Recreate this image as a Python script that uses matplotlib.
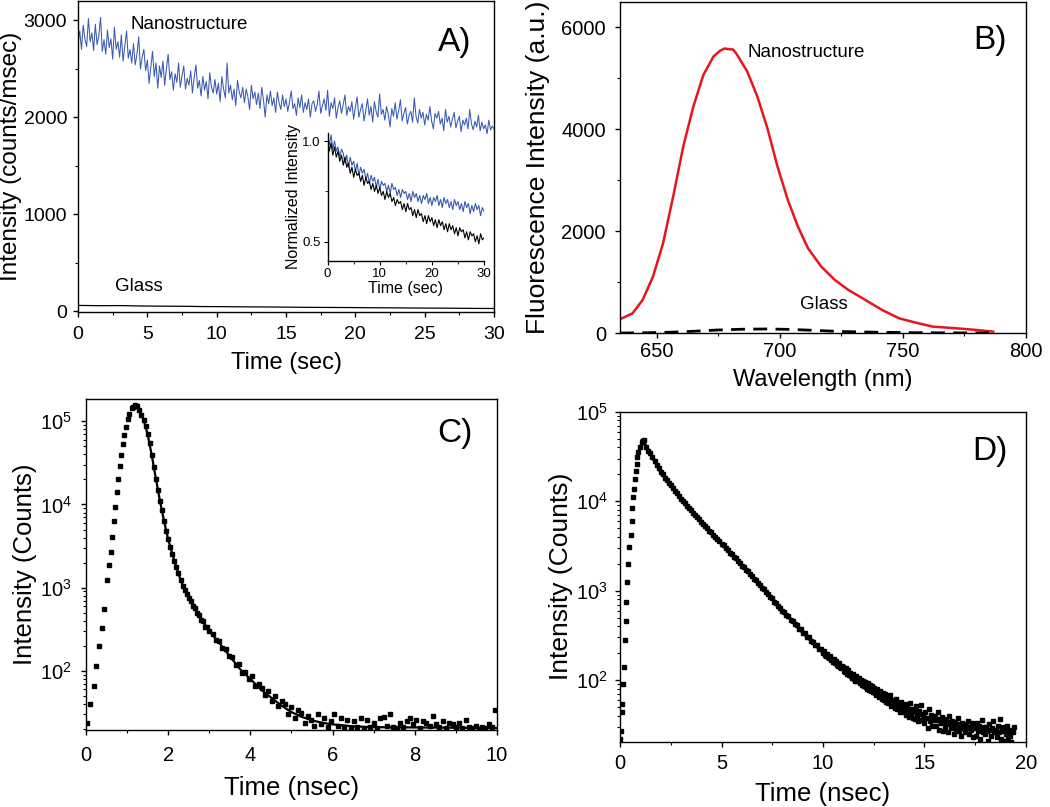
import numpy as np
import matplotlib
matplotlib.use("Agg")
import matplotlib.pyplot as plt
from matplotlib.ticker import MultipleLocator, LogLocator, NullFormatter

plt.rcParams["font.family"] = ["Liberation Sans", "DejaVu Sans"]
plt.rcParams["axes.linewidth"] = 1.0
plt.rcParams["xtick.direction"] = "out"
plt.rcParams["ytick.direction"] = "out"

BLUE, RED, INK = "#3a5ab2", "#e8161c", "#000000"

# ---------------- A) intensity traces (8 bins per second, 0-30 s) ----------------
a_nano = [2760, 2890, 2700, 2950, 2810, 2730, 3020, 2780,
          2870, 2690, 2960, 2750, 2840, 3030, 2680, 2800,
          2650, 2900, 2720, 2810, 2600, 2930, 2700, 2780,
          2620, 2850, 2580, 2740, 2890, 2610, 2700, 2560,
          2760, 2540, 2650, 2830, 2500, 2620, 2700, 2480,
          2590, 2350, 2510, 2680, 2420, 2560, 2300, 2530,
          2410, 2580, 2330, 2500, 2650, 2390, 2470, 2280,
          2450, 2360, 2560, 2310, 2430, 2530, 2290, 2400,
          2330, 2480, 2250, 2410, 2540, 2300, 2380, 2220,
          2420, 2280, 2370, 2190, 2460, 2310, 2250, 2390,
          2240, 2350, 2160, 2420, 2290, 2200, 2560, 2250,
          2330, 2180, 2290, 2120, 2380, 2260, 2200, 2310,
          2150, 2290, 2210, 2080, 2330, 2190, 2260, 2130,
          2250, 2090, 2310, 2180, 2000, 2230, 2140, 2270,
          2120, 2200, 2050, 2260, 2150, 2080, 2230, 2110,
          2190, 2060, 2160, 2270, 2090, 2140, 2020, 2200,
          2100, 2230, 2050, 2150, 2080, 2190, 2000, 2140,
          2170, 2060, 2130, 2270, 2040, 2120, 2190, 2070,
          2280, 2010, 2150, 2090, 2200, 1990, 2100, 2170,
          2040, 2130, 2230, 2020, 2110, 2060, 2160, 1980,
          2100, 2210, 2000, 2080, 2140, 1960, 2070, 2190,
          2020, 2110, 1950, 2160, 2060, 2000, 2240, 2030,
          2080, 1970, 2110, 2030, 1900, 2090, 2010, 2150,
          1980, 2070, 2180, 1960, 2040, 2100, 1930, 2020,
          2060, 1950, 2200, 2010, 1940, 2080, 1990, 2050,
          1920, 2030, 1970, 2110, 1960, 1880, 2040, 1990,
          2060, 1930, 1990, 1860, 2080, 1950, 2010, 1900,
          1980, 2050, 1890, 1960, 2010, 1850, 1970, 1920,
          1990, 1880, 2080, 1930, 1870, 1960, 1900, 2020,
          1860, 1950, 1880, 1920, 1830, 1970, 1870, 1910,
          1880]
a_glass = [58, 55, 56, 52, 50, 49, 46, 45, 43, 42, 40, 38, 37, 36, 34, 33, 31, 30, 29, 27, 26]

# inset: normalized traces (3 bins per second)
ins_blue = [1.02, 0.98, 1.03, 0.96, 1.00, 0.95, 0.97, 0.92, 0.96, 0.94, 0.89, 0.93,
            0.87, 0.92, 0.88, 0.90, 0.85, 0.89, 0.83, 0.87, 0.84, 0.86, 0.81, 0.84,
            0.79, 0.83, 0.80, 0.82, 0.77, 0.81, 0.76, 0.80, 0.78, 0.79, 0.75, 0.78,
            0.74, 0.79, 0.76, 0.77, 0.73, 0.76, 0.72, 0.76, 0.74, 0.75, 0.71, 0.74,
            0.70, 0.75, 0.72, 0.74, 0.70, 0.73, 0.69, 0.73, 0.71, 0.74, 0.69, 0.72,
            0.68, 0.72, 0.70, 0.73, 0.68, 0.71, 0.67, 0.72, 0.69, 0.71, 0.67, 0.70,
            0.66, 0.71, 0.68, 0.70, 0.66, 0.69, 0.65, 0.70, 0.67, 0.69, 0.64, 0.68,
            0.65, 0.69, 0.66, 0.68, 0.63, 0.67, 0.65]
ins_black = [1.01, 0.95, 0.99, 0.93, 0.97, 0.92, 0.95, 0.90, 0.93, 0.88, 0.92, 0.87,
             0.89, 0.84, 0.87, 0.82, 0.86, 0.83, 0.84, 0.80, 0.83, 0.78, 0.82, 0.79,
             0.80, 0.76, 0.79, 0.75, 0.78, 0.74, 0.77, 0.73, 0.75, 0.71, 0.75, 0.72,
             0.74, 0.70, 0.72, 0.68, 0.71, 0.69, 0.70, 0.66, 0.69, 0.65, 0.69, 0.66,
             0.67, 0.63, 0.66, 0.62, 0.66, 0.63, 0.64, 0.60, 0.63, 0.59, 0.63, 0.60,
             0.62, 0.58, 0.61, 0.57, 0.61, 0.58, 0.60, 0.56, 0.59, 0.55, 0.59, 0.56,
             0.58, 0.54, 0.57, 0.53, 0.57, 0.55, 0.56, 0.52, 0.55, 0.51, 0.55, 0.53,
             0.54, 0.50, 0.53, 0.49, 0.54, 0.51, 0.52]

# ---------------- B) emission spectra ----------------
b_wl = [635, 640.1, 644.2, 648.4, 652.5, 656.6, 660.7, 664.8, 668.9, 673, 675.8, 677.5,
        679.2, 681, 682.6, 686.7, 690.8, 694.9, 699, 703.2, 707.3, 711.4, 716.8, 722.3,
        727.8, 734.7, 741.5, 748.4, 755.2, 762.1, 771.6, 779.9, 786.7]
b_nano = [275, 392, 654, 1111, 1765, 2680, 3660, 4444, 5065, 5425, 5542, 5580,
          5569, 5560, 5458, 5131, 4641, 4020, 3268, 2614, 2092, 1667, 1307, 1046,
          850, 654, 458, 294, 209, 131, 98, 65, 33]
b_glass_wl = [635, 645, 655, 665, 675, 685, 695, 705, 715, 725, 740, 755, 770, 785]
b_glass = [5, 10, 20, 40, 65, 80, 85, 75, 55, 35, 20, 12, 8, 6]

# ---------------- C) decay on glass ----------------
c_rise_t = [0.02, 0.10, 0.19, 0.25, 0.32, 0.38, 0.45, 0.51, 0.56, 0.60, 0.64, 0.67,
            0.71, 0.75, 0.79, 0.83, 0.86, 0.89, 0.93, 0.97, 1.01, 1.05, 1.11]
c_rise = [24, 40, 65, 115, 200, 330, 550, 1250, 1870, 2700, 4070, 6300,
          9300, 14200, 20000, 29000, 39000, 53500, 68000, 85000, 105000, 123000, 143000]
c_head = [150000, 156000, 152000, 137000, 120000, 104000, 88000, 70000, 54000, 39000,
          28500, 20500, 15000, 11000, 8500, 6300, 4800, 3800, 3100, 2550, 2100, 1750,
          1490, 1250, 1060, 940, 850, 760, 690, 610, 570, 495, 470, 410, 395, 340, 335]
c_tail = [305, 280, 238, 226, 190, 184, 150, 146, 118, 121, 95, 98, 79, 86, 66, 70,
          62, 51, 57, 43, 50, 38, 44, 40, 30, 37, 27, 34, 31, 24, 29, 26, 22, 30, 23, 27,
          21, 25, 30, 22, 27, 21, 26, 20.5, 25, 21, 27, 20, 26, 21, 24, 20.5, 27, 28,
          22, 30, 21, 20.5, 24, 21, 25, 27, 23, 26, 20.5, 25, 24, 22, 29, 23, 21, 25,
          20.5, 24, 23, 21, 24, 20.5, 26, 21, 20.5, 22, 20, 21, 20.5, 23, 21, 34]
c_fit_t = [1.22, 1.3, 1.4, 1.5, 1.6, 1.7, 1.8, 1.9, 2.0, 2.1, 2.2, 2.3, 2.4, 2.5, 2.6, 2.8,
           3.0, 3.25, 3.5, 3.75, 4.0, 4.25, 4.5, 4.75, 5.0, 5.25, 5.5, 5.75, 6.0, 6.5, 7.0, 10.0]
c_fit = [156000, 137000, 104000, 70000, 39000, 20500, 11000, 6300, 3800, 2550, 1750, 1250,
         940, 760, 615, 420, 300, 215, 150, 105, 80, 60, 48, 38.5, 32, 28, 25.5, 23.8,
         22.8, 21.6, 21.1, 20.6]

# ---------------- D) decay on nanostructure ----------------
d_rise_t = [0.0, 0.05, 0.08, 0.11, 0.16, 0.21, 0.25, 0.28, 0.31, 0.36, 0.41, 0.44, 0.54,
            0.57, 0.61, 0.66, 0.69, 0.74, 0.79, 0.82, 0.85, 0.90, 0.99, 1.07, 1.15, 1.20]
d_rise = [22, 27, 44, 54, 91, 141, 282, 457, 740, 1250, 2000, 3100, 4150,
          6000, 8300, 11000, 13800, 17800, 21900, 26300, 30800, 35600, 40600, 45600, 47500, 48000]
d_head = [40500, 36800, 34200, 30800, 28300, 25500, 23600, 21300, 19950, 18400, 17350,
          16050, 15100, 13900, 13150, 12200, 11500, 10650, 10100, 9450, 8950, 8380, 7930,
          7420, 7050, 6600, 6260, 5860, 5590, 5240, 5000, 4690, 4470, 4190, 4000, 3750,
          3580, 3350, 3200, 2990, 2860, 2670, 2560, 2380, 2290, 2130, 2050, 1900, 1830,
          1700, 1640, 1520, 1465, 1355, 1310, 1205, 1170, 1075, 1040, 955, 925, 848, 822,
          752, 728, 668, 646, 592, 578, 528, 517, 472, 463, 422, 415, 377, 373, 336, 335,
          302, 300, 271, 270, 245, 246, 221, 222]
d_tail = [199, 210, 190, 184, 196, 181, 175, 186, 168, 174,
          160, 171, 155, 162, 147, 145, 154, 140, 136, 144,
          139, 127, 124, 135, 118, 129, 113, 121, 110, 106,
          116, 103, 99, 112, 97, 106, 92, 101, 89, 98,
          87, 96, 84, 80, 93, 78, 88, 76, 85, 73,
          82, 71, 68, 79, 70, 64, 75, 66, 61, 72,
          60, 70, 57, 66, 55, 63, 68, 52, 60, 53,
          59, 49, 62, 47, 55, 51, 44, 57, 48, 53,
          44, 54, 41, 50, 46, 39, 56, 42, 47, 38,
          46, 37, 51, 40, 35, 45, 42, 53, 36, 41,
          33, 44, 38, 29, 47, 35, 41, 31, 39, 36,
          40, 31, 36, 44, 28, 37, 33, 39, 27, 35,
          30, 37, 34, 26, 40, 32, 29, 35, 31, 25,
          34, 28, 32, 38, 27, 30, 24, 33, 29, 31,
          26, 32, 29, 35, 25, 30, 28, 33, 23, 31,
          29, 24, 33, 27, 31, 22, 28, 36, 26, 30,
          25, 30, 27, 21, 32, 28, 24, 29, 35, 26,
          28, 23, 31, 26, 37, 22, 27, 30, 21, 29,
          25, 31, 22, 28, 24, 20.5, 27, 26, 30]
d_fit_t = [1.1, 1.5, 2, 2.5, 3, 3.5, 4, 4.5, 5, 5.5, 6, 6.5, 7, 7.5, 8, 8.5, 9, 9.5, 10,
           10.5, 11, 11.5, 12, 12.5, 13, 13.5, 14, 14.5, 15, 15.5, 16, 16.5, 17, 17.5, 18,
           18.5, 19, 19.4]
d_fit = [48000, 34000, 21400, 15000, 10700, 7900, 5880, 4450, 3370, 2540, 1920, 1450, 1090,
         810, 600, 455, 345, 265, 205, 166, 135, 110, 92, 77, 65, 55, 48, 43, 39, 35.5, 33,
         31, 29.5, 28.5, 27.5, 26.5, 26, 25.5]


def style(ax, lab, xpad, ypad):
    ax.tick_params(which="major", length=3.6, width=1.0, labelsize=lab)
    ax.tick_params(which="minor", length=2.2, width=0.8)
    ax.tick_params(axis="x", which="major", pad=xpad)
    ax.tick_params(axis="y", which="major", pad=ypad)


fig = plt.figure(figsize=(10.5, 8.07), dpi=100)

# A
axA = fig.add_axes([0.0743, 0.6128, 0.3962, 0.386])
tA = np.linspace(0, 30, len(a_nano))
axA.plot(tA, a_nano, color=BLUE, lw=0.75)
axA.plot(np.linspace(0, 30, len(a_glass)), a_glass, color=INK, lw=0.9)
axA.set_xlim(0, 30)
axA.set_ylim(-15, 3200)
axA.xaxis.set_major_locator(MultipleLocator(5))
axA.xaxis.set_minor_locator(MultipleLocator(2.5))
axA.yaxis.set_major_locator(MultipleLocator(1000))
axA.yaxis.set_minor_locator(MultipleLocator(500))
style(axA, 14, 6.5, 4.3)
axA.set_xlabel("Time (sec)", fontsize=17)
axA.set_ylabel("Intensity (counts/msec)", fontsize=17.5)
axA.xaxis.set_label_coords(0.5, -0.127)
axA.yaxis.set_label_coords(-0.135, 0.5)
axA.text(0.125, 0.926, "Nanostructure", transform=axA.transAxes, fontsize=13.5, va="center")
axA.text(0.089, 0.082, "Glass", transform=axA.transAxes, fontsize=13.5, va="center")
axA.text(0.906, 0.868, "A)", transform=axA.transAxes, fontsize=24, ha="center", va="center")

ins = fig.add_axes([0.312, 0.6766, 0.149, 0.1586])
tI = np.linspace(0, 30, len(ins_blue))
ins.plot(tI, ins_blue, color=BLUE, lw=0.8)
ins.plot(tI, ins_black, color=INK, lw=0.8)
ins.set_xlim(0, 30)
ins.set_ylim(0.405, 1.04)
ins.xaxis.set_major_locator(MultipleLocator(10))
ins.xaxis.set_minor_locator(MultipleLocator(5))
ins.yaxis.set_major_locator(MultipleLocator(0.5))
ins.yaxis.set_minor_locator(MultipleLocator(0.25))
ins.spines[["top", "right"]].set_visible(False)
ins.patch.set_alpha(0)
ins.tick_params(which="major", length=3, width=0.8, labelsize=9.5, pad=2)
ins.tick_params(which="minor", length=2, width=0.6)
ins.set_xlabel("Time (sec)", fontsize=11.5, labelpad=1)
ins.set_ylabel("Normalized Intensity", fontsize=11.5, labelpad=1)

# B
axB = fig.add_axes([0.5905, 0.587, 0.3866, 0.411])
axB.plot(b_wl, b_nano, color=RED, lw=1.8)
axB.plot(b_glass_wl, b_glass, color=INK, lw=2.0, dashes=(5, 3))
axB.set_xlim(635, 800)
axB.set_ylim(0, 6500)
axB.xaxis.set_major_locator(MultipleLocator(50))
axB.xaxis.set_minor_locator(MultipleLocator(25))
axB.yaxis.set_major_locator(MultipleLocator(2000))
axB.yaxis.set_minor_locator(MultipleLocator(1000))
style(axB, 14.5, 3, 6.5)
axB.set_xlabel("Wavelength (nm)", fontsize=17)
axB.set_ylabel("Fluorescence Intensity (a.u.)", fontsize=19)
axB.xaxis.set_label_coords(0.5, -0.108)
axB.yaxis.set_label_coords(-0.172, 0.5)
axB.text(0.313, 0.847, "Nanostructure", transform=axB.transAxes, fontsize=13.5, va="center")
axB.text(0.443, 0.088, "Glass", transform=axB.transAxes, fontsize=13.5, va="center")
axB.text(0.911, 0.883, "B)", transform=axB.transAxes, fontsize=24, ha="center", va="center")


def decay_axes(ax, xmax, ymin, ymax, xpad, ypad):
    ax.set_yscale("log")
    ax.set_xlim(0, xmax)
    ax.set_ylim(ymin, ymax)
    ax.yaxis.set_major_locator(LogLocator(base=10, numticks=10))
    ax.yaxis.set_minor_locator(LogLocator(base=10, subs=np.arange(2, 10), numticks=20))
    ax.yaxis.set_minor_formatter(NullFormatter())
    style(ax, 14.5, xpad, ypad)


# C
axC = fig.add_axes([0.0819, 0.0954, 0.3914, 0.4102])
tC_head = 1.15 + 0.05 * np.arange(len(c_head))
tC_tail = 3.0 + 0.08 * np.arange(len(c_tail))
for t, v in [(c_rise_t, c_rise), (tC_head, c_head), (tC_tail, c_tail)]:
    axC.plot(t, v, ls="none", marker="s", ms=2.5, color=INK)
axC.plot(c_fit_t, c_fit, color=INK, lw=1.6)
decay_axes(axC, 10, 19.5, 1.85e5, 8, 6.5)
axC.xaxis.set_major_locator(MultipleLocator(2))
axC.xaxis.set_minor_locator(MultipleLocator(1))
axC.set_xlabel("Time (nsec)", fontsize=18.5)
axC.set_ylabel("Intensity (Counts)", fontsize=18.5)
axC.xaxis.set_label_coords(0.5, -0.139)
axC.yaxis.set_label_coords(-0.119, 0.5)
axC.text(0.898, 0.897, "C)", transform=axC.transAxes, fontsize=24, ha="center", va="center")

# D
axD = fig.add_axes([0.5905, 0.0809, 0.3866, 0.4089])
tD_head = 1.3 + 0.1 * np.arange(len(d_head))
tD_tail = 10.0 + 0.05 * np.arange(len(d_tail))
axD.plot(d_fit_t, d_fit, color=INK, lw=2.4)
for t, v in [(d_rise_t, d_rise), (tD_head, d_head), (tD_tail, d_tail)]:
    axD.plot(t, v, ls="none", marker="s", ms=2.6, color=INK)
decay_axes(axD, 20, 20.5, 1e5, 5.5, 5)
axD.xaxis.set_major_locator(MultipleLocator(5))
axD.xaxis.set_minor_locator(MultipleLocator(2.5))
axD.set_xlabel("Time (nsec)", fontsize=18.5)
axD.set_ylabel("Intensity (Counts)", fontsize=19)
axD.xaxis.set_label_coords(0.5, -0.122)
axD.yaxis.set_label_coords(-0.116, 0.5)
axD.text(0.911, 0.878, "D)", transform=axD.transAxes, fontsize=24, ha="center", va="center")

fig.savefig("out.png", dpi=100)
